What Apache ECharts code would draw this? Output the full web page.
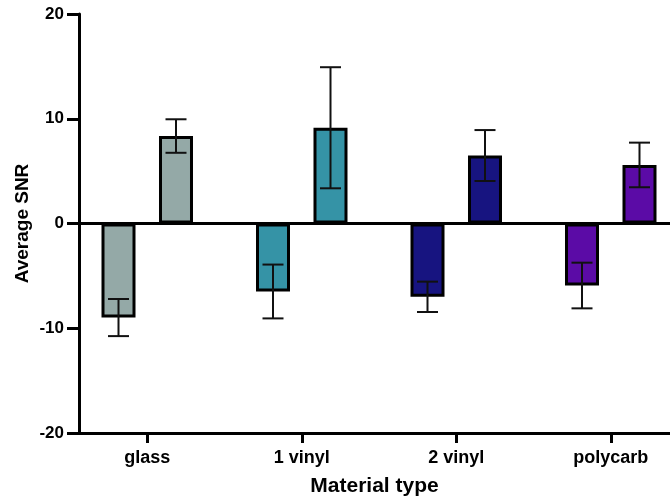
<!DOCTYPE html>
<html>
<head>
<meta charset="utf-8">
<script src="https://cdn.jsdelivr.net/npm/echarts@6/dist/echarts.min.js"></script>
<style>
  html, body { margin: 0; padding: 0; background: #ffffff; }
  #chart { width: 670px; height: 499px; }
</style>
</head>
<body>
<div id="chart"></div>
<script>
// Average SNR by material type: two conditions per material, mean ± error
const categories = ['glass', '1 vinyl', '2 vinyl', 'polycarb'];
const negMeans = [-8.98, -6.49, -7.0, -5.92];
const negErrors = [1.77, 2.57, 1.45, 2.18];
const posMeans = [8.35, 9.14, 6.49, 5.59];
const posErrors = [1.6, 5.78, 2.43, 2.13];
const yTicks = [-20, -10, 0, 10, 20];

const colors = ['#94a9a7', '#3593a6', '#171480', '#5b0ba6'];
const BAR_W = 34;
const BAR_GAP = 23.5;
const FONT = '"Liberation Sans", Arial, sans-serif';

const chart = echarts.init(document.getElementById('chart'), null, { renderer: 'canvas' });

function barData(values) {
  return values.map((v, i) => ({
    value: v,
    itemStyle: { color: colors[i], borderColor: '#000', borderWidth: 3 }
  }));
}

function errorSeries(means, errors, side) {
  return {
    type: 'custom',
    xAxisIndex: 1,
    yAxisIndex: 1,
    z: 5,
    data: means.map((m, i) => [i, m, errors[i]]),
    renderItem: function (params, api) {
      const i = api.value(0);
      const m = api.value(1);
      const e = api.value(2);
      const cx = api.coord([i, 0])[0] + side * (BAR_W + BAR_GAP) / 2;
      const yHi = api.coord([i, m + e])[1];
      const yLo = api.coord([i, m - e])[1];
      const half = 10.5;
      const style = { stroke: '#111', lineWidth: 2 };
      return {
        type: 'group',
        children: [
          { type: 'line', shape: { x1: cx, y1: yHi, x2: cx, y2: yLo }, style: style },
          { type: 'line', shape: { x1: cx - half, y1: yHi, x2: cx + half, y2: yHi }, style: style },
          { type: 'line', shape: { x1: cx - half, y1: yLo, x2: cx + half, y2: yLo }, style: style }
        ]
      };
    }
  };
}

const option = {
  animation: false,
  backgroundColor: '#ffffff',
  grid: [
    // frame: left axis and bottom axis line
    { left: 79, right: 0, top: 14, height: 419, outerBoundsMode: 'none' },
    // bars, zero line and category labels (last band runs past the right edge)
    { left: 70, width: 618, top: 14, height: 419, outerBoundsMode: 'none', containLabel: false }
  ],
  xAxis: [
    {
      gridIndex: 0, type: 'value', min: 0, max: 1,
      axisLine: { show: true, onZero: false, lineStyle: { color: '#000', width: 3 } },
      axisTick: { show: false }, axisLabel: { show: false }, splitLine: { show: false },
      name: 'Material type',
      nameLocation: 'middle',
      nameGap: 43,
      nameTextStyle: { color: '#000', fontFamily: FONT, fontWeight: 'bold', fontSize: 21 }
    },
    {
      gridIndex: 1, type: 'category', data: categories, position: 'top',
      axisLine: { show: true, onZero: true, lineStyle: { color: '#000', width: 3 } },
      axisTick: { show: false }, axisLabel: { show: false }, splitLine: { show: false }
    },
    {
      gridIndex: 1, type: 'category', data: categories, position: 'bottom',
      axisLine: { show: false, onZero: false },
      axisTick: { show: true, alignWithLabel: true, length: 10, lineStyle: { color: '#000', width: 3 } },
      axisLabel: { margin: 16, color: '#000', fontFamily: FONT, fontWeight: 'bold', fontSize: 18 },
      splitLine: { show: false }
    }
  ],
  yAxis: [
    {
      gridIndex: 0, type: 'value',
      min: yTicks[0], max: yTicks[yTicks.length - 1], interval: 10,
      axisLine: { show: true, lineStyle: { color: '#000', width: 3 } },
      axisTick: { show: true, length: 12, lineStyle: { color: '#000', width: 3 } },
      axisLabel: { margin: 15, color: '#000', fontFamily: FONT, fontWeight: 'bold', fontSize: 17 },
      splitLine: { show: false },
      name: 'Average SNR',
      nameLocation: 'middle',
      nameGap: 47,
      nameMoveOverlap: false,
      nameTextStyle: { color: '#000', fontFamily: FONT, fontWeight: 'bold', fontSize: 19 }
    },
    {
      gridIndex: 1, type: 'value', min: -20, max: 20, show: false
    }
  ],
  series: [
    {
      type: 'bar', xAxisIndex: 1, yAxisIndex: 1,
      barWidth: BAR_W, barGap: (BAR_GAP / BAR_W * 100).toFixed(1) + '%',
      data: barData(negMeans)
    },
    {
      type: 'bar', xAxisIndex: 1, yAxisIndex: 1,
      barWidth: BAR_W,
      data: barData(posMeans)
    },
    errorSeries(negMeans, negErrors, -1),
    errorSeries(posMeans, posErrors, 1)
  ]
};

chart.setOption(option);
</script>
</body>
</html>
